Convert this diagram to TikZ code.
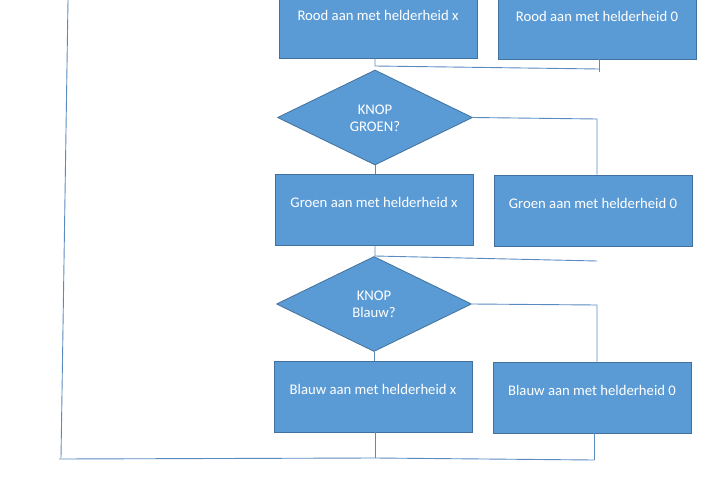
\documentclass[tikz,border=0pt]{standalone}
\usepackage{fontspec}
\setmainfont{Carlito}
\usetikzlibrary{shapes.geometric,calc}
\definecolor{boxfill}{HTML}{5B9BD5}
\definecolor{boxline}{HTML}{41719C}
\definecolor{wire}{HTML}{5A8AC0}
\tikzset{
  box/.style={draw=boxline, fill=boxfill, line width=0.8pt, rectangle, minimum width=198pt, minimum height=71pt, inner sep=0pt},
  dia/.style={draw=boxline, fill=boxfill, line width=0.8pt, diamond, minimum width=195pt, minimum height=95pt, inner sep=0pt},
  lbl/.style={text=white, font=\fontsize{14.7}{17}\selectfont, align=center, inner sep=0pt},
  wire/.style={draw=wire, line width=0.9pt}
}
\begin{document}
\begin{tikzpicture}[x=1pt,y=-1pt]
\useasboundingbox (0,0) rectangle (714,492);
% boxes
\node[box] (rx) at (378,22.5) {};
\node[lbl] (rxt) at ($(rx.center)+(0,-7)$) {Rood aan met helderheid x};
\node[box] (r0) at (597,23.5) {};
\node[lbl] (r0t) at ($(r0.center)+(0,-7)$) {Rood aan met helderheid 0};
\node[dia] (dg) at (375,117.5) {};
\node[lbl] (dgt) at (375,118.5) {KNOP\\GROEN?};
\node[box] (gx) at (374,209.5) {};
\node[lbl] (gxt) at ($(gx.center)+(0,-7)$) {Groen aan met helderheid x};
\node[box] (g0) at (593,210.5) {};
\node[lbl] (g0t) at ($(g0.center)+(0,-7)$) {Groen aan met helderheid 0};
\node[dia] (db) at (374,304) {};
\node[lbl] (dbt) at (374,304.5) {KNOP\\Blauw?};
\node[box] (bx) at (373,396.5) {};
\node[lbl] (bxt) at ($(bx.center)+(0,-7)$) {Blauw aan met helderheid x};
\node[box] (b0) at (592,397.5) {};
\node[lbl] (b0t) at ($(b0.center)+(0,-7)$) {Blauw aan met helderheid 0};
% free coordinates
\coordinate (c1) at (375,66);
\coordinate (c2) at (599,69);
\coordinate (c3) at (599,72);
\coordinate (c4) at (597,119);
\coordinate (c5) at (375,256);
\coordinate (c6) at (597,261);
\coordinate (c7) at (597,305);
\coordinate (c8) at (375,458);
\coordinate (c9) at (594,460);
\coordinate (c10) at (59,459);
\coordinate (c11) at (61,458);
\coordinate (c12) at (68,0);
% connectors
\draw[wire] (rx.south -| c1) -- (c1) -- (c2);
\draw[wire] (r0.south -| c2) -- (c3);
\draw[wire] (dg.east) -- (c4) -- (c4 |- g0.north);
\draw[wire] (dg.south) -- (gx.north -| dg.south);
\draw[wire] (gx.south -| c5) -- (c5) -- (c6);
\draw[wire] (db.east) -- (c7) -- (c7 |- b0.north);
\draw[wire] (db.south) -- (bx.north -| db.south);
\draw[wire] (bx.south -| c8) -- (c8);
\draw[wire] (b0.south -| c9) -- (c9);
\draw[wire] (c10) -- (c8) -- (c9);
\draw[wire] (c11) -- (c12);
\end{tikzpicture}
\end{document}
